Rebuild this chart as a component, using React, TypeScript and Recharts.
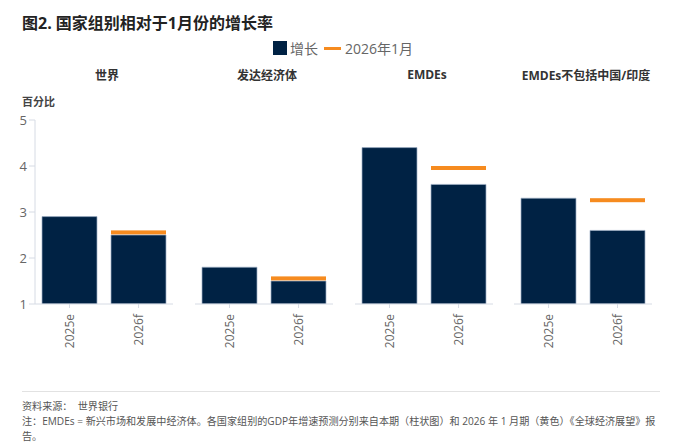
import React from "react";
import { BarChart, Bar, XAxis, YAxis } from "recharts";

const groups = ["世界", "发达经济体", "EMDEs", "EMDEs不包括中国/印度"];
const years = ["2025e", "2026f"];
const growth2025 = [2.9, 1.8, 4.4, 3.3];
const growth2026 = [2.5, 1.5, 3.6, 2.6];
const january2026 = [2.6, 1.6, 4.0, 3.3];
const yTicks = [1, 2, 3, 4, 5];

const NAVY = "#002244";
const ORANGE = "#f68b1f";
const AXIS = "#d6dbe4";
const FONT = "'Open Sans', 'Noto Sans CJK SC', sans-serif";

// plot area left edge of each panel
const panelLeft = [35, 195, 355, 514];
const PLOT_W = 138;
const TOP = 100;
const MARGIN_TOP = 20;
const PLOT_H = 184;
const X_H = 50;

const JanMarker = (props: any) => {
  const { x, y, width } = props;
  if (y == null || isNaN(y)) return null;
  return <rect x={x} y={y} width={width} height={4} fill={ORANGE} />;
};

const YearTick = (props: any) => {
  const { x, y, payload } = props;
  return (
    <g transform={`translate(${x},${y})`}>
      <text
        transform="rotate(-90)"
        x={-4}
        dy="0.35em"
        textAnchor="end"
        fill="#666"
        fontSize={12}
        fontFamily={FONT}
      >
        {payload.value}
      </text>
    </g>
  );
};

const Panel: React.FC<{ index: number }> = ({ index }) => {
  const data = years.map((year, i) => ({
    year,
    growth: i === 0 ? growth2025[index] : growth2026[index],
    january: i === 0 ? null : january2026[index],
  }));
  const withAxis = index === 0;
  const yWidth = withAxis ? 35 : 0;

  return (
    <div style={{ position: "absolute", left: panelLeft[index] - yWidth, top: TOP }}>
      <BarChart
        width={PLOT_W + yWidth}
        height={MARGIN_TOP + PLOT_H + X_H}
        data={data}
        margin={{ top: MARGIN_TOP, right: 0, bottom: 0, left: 0 }}
        barSize={55}
        barGap={-55}
      >
        <XAxis
          dataKey="year"
          height={X_H}
          stroke={AXIS}
          tickSize={4}
          tick={<YearTick />}
          interval={0}
        />
        <YAxis
          domain={[1, 5]}
          ticks={yTicks}
          width={yWidth}
          hide={!withAxis}
          stroke={AXIS}
          tickSize={6}
          tickMargin={2}
          tick={{ fill: "#666", fontSize: 13, fontFamily: FONT }}
          allowDataOverflow
        />
        <Bar
          dataKey="growth"
          fill={NAVY}
          stroke="#9fb0c6"
          strokeWidth={0.7}
          isAnimationActive={false}
        />
        <Bar dataKey="january" shape={<JanMarker />} isAnimationActive={false} />
      </BarChart>
    </div>
  );
};

export default function App() {
  return (
    <div
      style={{
        position: "absolute",
        left: 0,
        top: 0,
        width: 700,
        height: 446,
        background: "#fff",
        fontFamily: FONT,
        overflow: "hidden",
      }}
    >
      <div
        style={{
          position: "absolute",
          left: 22,
          top: 10,
          fontSize: 16,
          fontWeight: 700,
          color: "#222",
          whiteSpace: "nowrap",
        }}
      >
        图2. 国家组别相对于1月份的增长率
      </div>

      {/* legend */}
      <div
        style={{
          position: "absolute",
          left: 273,
          top: 38,
          display: "flex",
          alignItems: "center",
          fontSize: 14,
          color: "#666",
          whiteSpace: "nowrap",
        }}
      >
        <span style={{ width: 14, height: 14, background: NAVY, display: "inline-block", marginRight: 3 }} />
        <span>增长</span>
        <span style={{ width: 17, height: 3, background: ORANGE, display: "inline-block", margin: "0 4px 0 6px" }} />
        <span>2026年1月</span>
      </div>

      {groups.map((g, i) => (
        <div
          key={g}
          style={{
            position: "absolute",
            left: panelLeft[i] + PLOT_W / 2 + 3 - 80,
            width: 160,
            top: 66,
            textAlign: "center",
            fontSize: 12,
            fontWeight: 700,
            color: "#333",
            whiteSpace: "nowrap",
          }}
        >
          {g}
        </div>
      ))}

      <div
        style={{
          position: "absolute",
          left: 22,
          top: 93,
          fontSize: 11,
          fontWeight: 700,
          color: "#444",
        }}
      >
        百分比
      </div>

      {groups.map((g, i) => (
        <Panel key={g} index={i} />
      ))}

      {/* footer */}
      <div style={{ position: "absolute", left: 22, top: 391, width: 638, height: 1, background: "#e2e2e2" }} />
      <div
        style={{
          position: "absolute",
          left: 22,
          top: 399,
          fontSize: 10.1,
          lineHeight: "15px",
          color: "#555",
          whiteSpace: "nowrap",
        }}
      >
        <div>资料来源：&nbsp;&nbsp;世界银行</div>
        <div>注：EMDEs = 新兴市场和发展中经济体。各国家组别的GDP年增速预测分别来自本期（柱状图）和 2026 年 1 月期（黄色）《全球经济展望》报</div>
        <div>告。</div>
      </div>
    </div>
  );
}
